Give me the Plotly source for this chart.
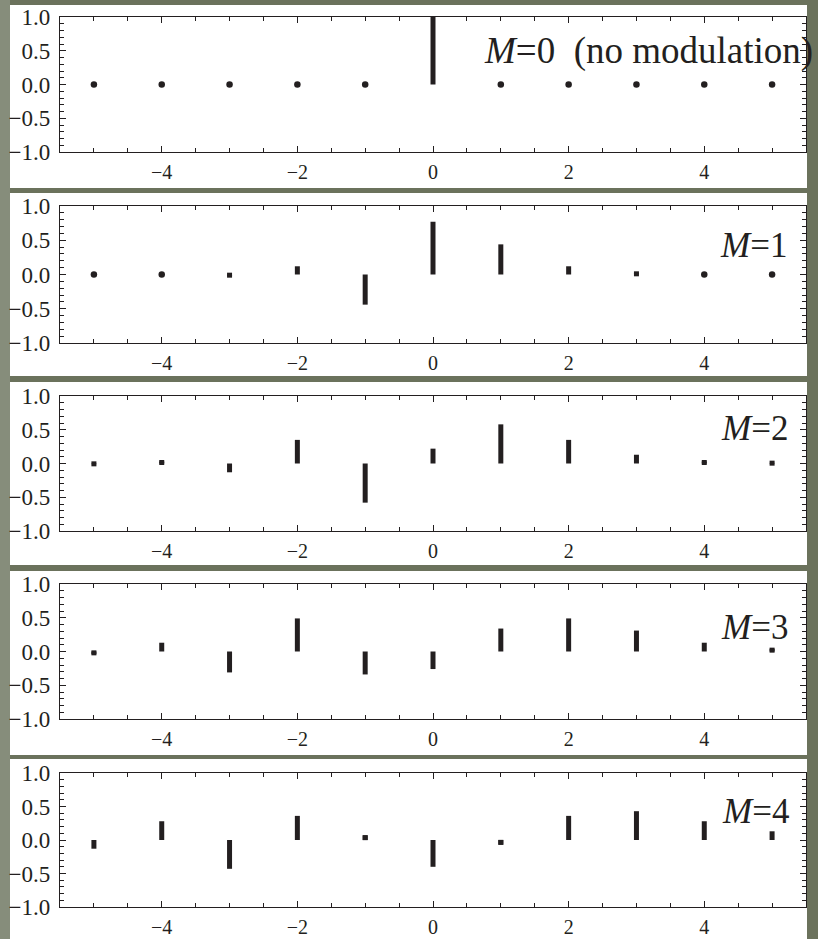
import plotly.graph_objects as go

n_vals = [-5, -4, -3, -2, -1, 0, 1, 2, 3, 4, 5]
M0 = [0.00, 0.00, 0.00, 0.00, 0.00, 1.00, 0.00, 0.00, 0.00, 0.00, 0.00]
M1 = [0.00, 0.00, -0.02, 0.12, -0.44, 0.77, 0.44, 0.12, 0.02, 0.00, 0.00]
M2 = [-0.01, 0.03, -0.13, 0.35, -0.58, 0.22, 0.58, 0.35, 0.13, 0.03, 0.01]
M3 = [-0.04, 0.13, -0.31, 0.49, -0.34, -0.26, 0.34, 0.49, 0.31, 0.13, 0.04]
M4 = [-0.13, 0.28, -0.43, 0.36, 0.07, -0.40, -0.07, 0.36, 0.43, 0.28, 0.13]
series = [M0, M1, M2, M3, M4]
labels = ["<i>M</i>=0\u00a0\u00a0(no modulation)", "<i>M</i>=1", "<i>M</i>=2", "<i>M</i>=3", "<i>M</i>=4"]
x_ticks = [-4, -2, 0, 2, 4]
x_ticktext = ["\u22124", "\u22122", "0", "2", "4"]
y_ticks = [-1.0, -0.5, 0.0, 0.5, 1.0]
y_ticktext = ["\u22121.0", "\u22120.5", "0.0", "0.5", "1.0"]

W, H = 818, 939
INK = "#231f20"
SERIF = "Liberation Serif, Times New Roman, serif"
frame_top = [17, 206, 396, 584, 773]
frame_bot = [152, 343, 531, 719, 907]
white_boxes = [(5, 188), (193, 376), (382, 565), (571, 755), (759, 939)]
label_y = [0.50, 0.42, 0.52, 0.36, 0.42]
label_xr = [815, 789, 790, 790, 791]
label_size = [37, 35, 35, 35, 35]

fig = go.Figure()
layout = dict(
    width=W, height=H, autosize=False,
    margin=dict(l=0, r=0, t=0, b=0, pad=0, autoexpand=False),
    paper_bgcolor="#6b725c", plot_bgcolor="white",
    showlegend=False, shapes=[], annotations=[],
)
layout["shapes"].append(dict(type="rect", xref="paper", yref="paper", x0=0, x1=10 / W, y0=0, y1=1,
                             fillcolor="#868d7b", line=dict(width=0), layer="below"))
for (t, b) in white_boxes:
    layout["shapes"].append(dict(type="rect", xref="paper", yref="paper",
                                 x0=10 / W, x1=807 / W, y0=1 - b / H, y1=1 - t / H,
                                 fillcolor="white", line=dict(width=0), layer="below"))

for i, vals in enumerate(series):
    k = "" if i == 0 else str(i + 1)
    xs, ys = [], []
    for n, v in zip(n_vals, vals):
        xs += [n, n, None]
        ys += [0, v, None]
    fig.add_trace(go.Scatter(x=xs, y=ys, mode="lines", line=dict(color=INK, width=5),
                             xaxis="x" + k, yaxis="y" + k, hoverinfo="skip"))
    zx = [n for n, v in zip(n_vals, vals) if abs(v) < 0.005]
    zy = [v for v in vals if abs(v) < 0.005]
    fig.add_trace(go.Scatter(x=zx, y=zy, mode="markers", marker=dict(color=INK, size=6.5, symbol="circle"),
                             xaxis="x" + k, yaxis="y" + k))
    sx = [n for n, v in zip(n_vals, vals) if 0.005 <= abs(v) < 0.08]
    sy = [v / 2 for v in vals if 0.005 <= abs(v) < 0.08]
    fig.add_trace(go.Scatter(x=sx, y=sy, mode="markers",
                             marker=dict(color=INK, size=5, symbol="square", line=dict(width=0)),
                             xaxis="x" + k, yaxis="y" + k, hoverinfo="skip"))
    layout["xaxis" + k] = dict(
        domain=[60 / W, 806 / W], anchor="y" + k, range=[-5.5, 5.5],
        tickmode="array", tickvals=x_ticks, ticktext=x_ticktext,
        ticks="inside", ticklen=6, tickwidth=1.2, tickcolor=INK,
        minor=dict(ticks="inside", dtick=0.5, tick0=0, ticklen=3.5, tickwidth=1, tickcolor=INK),
        showline=True, linecolor=INK, linewidth=1.4, mirror="allticks",
        showgrid=False, zeroline=False, fixedrange=True, automargin=False,
        tickfont=dict(family=SERIF, size=20, color=INK), ticklabelstandoff=2,
    )
    layout["yaxis" + k] = dict(
        domain=[1 - frame_bot[i] / H, 1 - frame_top[i] / H], anchor="x" + k, range=[-1, 1],
        tickmode="array", tickvals=y_ticks, ticktext=y_ticktext,
        ticks="inside", ticklen=6, tickwidth=1.2, tickcolor=INK,
        minor=dict(ticks="inside", dtick=0.1, tick0=0, ticklen=3.5, tickwidth=1, tickcolor=INK),
        showline=True, linecolor=INK, linewidth=1.4, mirror="allticks",
        showgrid=False, zeroline=False, fixedrange=True, automargin=False,
        tickfont=dict(family=SERIF, size=23, color=INK), ticklabelstandoff=4,
    )
    layout["annotations"].append(dict(
        text=labels[i], xref="paper", yref="y" + k, x=label_xr[i] / W, y=label_y[i],
        xanchor="right", yanchor="middle", showarrow=False,
        font=dict(family=SERIF, size=label_size[i], color=INK),
    ))

fig.update_layout(**layout)
fig.write_html("out.html", config={"displayModeBar": False},
               post_script="document.body.style.margin='0';document.body.style.overflow='hidden';")
